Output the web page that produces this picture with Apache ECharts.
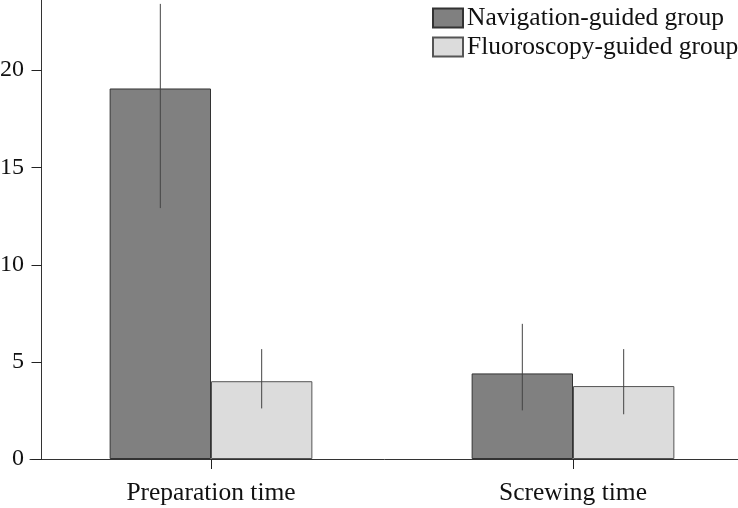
<!DOCTYPE html>
<html>
<head>
<meta charset="utf-8">
<script src="https://cdn.jsdelivr.net/npm/echarts@6/dist/echarts.min.js"></script>
<style>html,body{margin:0;padding:0;background:#fff}#c{width:738px;height:508px}</style>
</head>
<body>
<div id="c"></div>
<script>
const categories = ['Preparation time', 'Screwing time'];
const seriesNames = ['Navigation-guided group', 'Fluoroscopy-guided group'];
const navMean = [19.05, 4.4];
const navLow = [12.9, 2.5];
const navHigh = [23.4, 6.95];
const fluMean = [4.0, 3.75];
const fluLow = [2.6, 2.3];
const fluHigh = [5.65, 5.65];
const yTicks = [0, 5, 10, 15, 20];

const FONT = 'Liberation Serif';
const BAR_FRAC = 0.28;
const Y_OFFSET = 11;

function errData(low, high) {
  return categories.map((c, i) => [i, low[i], high[i]]);
}
function errSeries(low, high, side) {
  return {
    type: 'custom',
    silent: true,
    z: 5,
    data: errData(low, high),
    encode: { x: 0, y: [1, 2] },
    renderItem: function (params, api) {
      const i = api.value(0);
      const lo = api.coord([i, api.value(1)]);
      const hi = api.coord([i, api.value(2)]);
      const band = api.size([1, 0])[0];
      const x = lo[0] + side * band * BAR_FRAC / 2;
      return {
        type: 'line',
        shape: { x1: x, y1: lo[1], x2: x, y2: hi[1] },
        style: { stroke: '#444', lineWidth: 1 }
      };
    }
  };
}

const chart = echarts.init(document.getElementById('c'));
chart.setOption({
  animation: false,
  backgroundColor: '#fff',
  textStyle: { fontFamily: FONT },
  grid: { left: 30, width: 724, top: 0, height: 459, containLabel: false, outerBoundsMode: 'none' },
  legend: {
    data: seriesNames,
    left: 427, top: 0,
    orient: 'vertical',
    itemWidth: 30, itemHeight: 19, itemGap: 3,
    icon: 'rect',
    textStyle: { fontFamily: FONT, fontSize: 25.5, color: '#111', padding: [0, 0, 0, -1] }
  },
  xAxis: {
    type: 'category',
    data: categories,
    axisLine: { show: true, lineStyle: { color: '#333', width: 1 } },
    axisTick: { show: true, inside: false, alignWithLabel: true, interval: 0, length: 10, lineStyle: { color: '#222', width: 1 } },
    axisLabel: { fontFamily: FONT, fontSize: 25.5, color: '#111', margin: 21 }
  },
  yAxis: {
    type: 'value',
    min: 0, max: 23.6,
    offset: -Y_OFFSET,
    splitLine: { show: false },
    axisLine: { show: true, lineStyle: { color: '#333', width: 1 } },
    axisTick: { show: false },
    axisLabel: { customValues: yTicks, fontFamily: FONT, fontSize: 24, color: '#111', margin: 17 }
  },
  series: [
    {
      name: seriesNames[0], type: 'bar', data: navMean,
      barWidth: (BAR_FRAC * 100) + '%', barGap: '0%',
      itemStyle: { color: '#808080', borderColor: '#333', borderWidth: 1 }
    },
    {
      name: seriesNames[1], type: 'bar', data: fluMean,
      barWidth: (BAR_FRAC * 100) + '%', barGap: '0%',
      itemStyle: { color: '#dcdcdc', borderColor: '#555', borderWidth: 1 }
    },
    errSeries(navLow, navHigh, -1),
    errSeries(fluLow, fluHigh, 1)
  ]
});

// y-axis tick marks, positioned through the chart's own scales
const cx = chart.convertToPixel({ xAxisIndex: 0 }, categories[0]);
const cx2 = chart.convertToPixel({ xAxisIndex: 0 }, categories[1]);
const axisX = Math.round(cx - (cx2 - cx) / 2 + Y_OFFSET) + 0.5;
chart.setOption({
  graphic: yTicks.map(v => {
    const y = Math.round(chart.convertToPixel({ yAxisIndex: 0 }, v)) + 0.5;
    return {
      type: 'line', silent: true, z: 100,
      shape: { x1: axisX - 10, y1: y, x2: axisX, y2: y },
      style: { stroke: '#222', lineWidth: 1 }
    };
  })
});
</script>
</body>
</html>
